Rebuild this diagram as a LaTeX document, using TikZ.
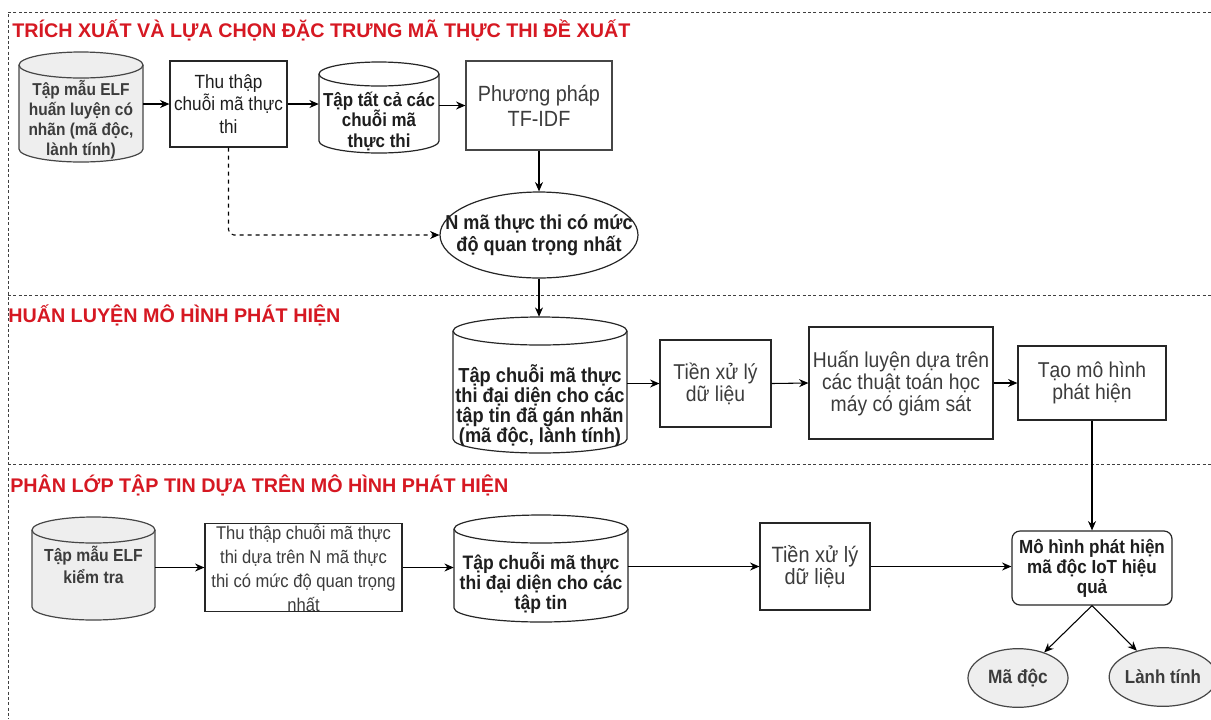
\documentclass[tikz,border=0pt]{standalone}
\usepackage{fontspec}
\setmainfont{Liberation Sans}[FakeStretch=0.9]
\newfontfamily\titlefont{Liberation Sans}
\usetikzlibrary{arrows.meta,shapes.geometric}

\definecolor{titlered}{RGB}{214,24,34}
\definecolor{dbgray}{RGB}{238,238,238}
\definecolor{edgegray}{RGB}{70,70,70}
\definecolor{txtdark}{RGB}{30,30,30}
\definecolor{txtgray}{RGB}{60,60,60}

% box given by its corners in pixel units (y grows downwards)
\newcommand{\pbox}[7]{%
  \node[#6, minimum width={(#4-#2)*0.75pt}, minimum height={(#5-#3)*0.75pt}]
    (#1) at ({(#2+#4)/2},{-(#3+#5)/2}) {#7};}

% storage cylinder: name, x1, ytop, x2, ybottom, cap radius, style
\newcommand{\dbcyl}[7]{%
  \pgfmathsetmacro\cylrx{(#4-#2)/2}%
  \path[#7] (#2,{-#3-#6}) -- (#2,{-#5+#6})
    arc[start angle=180,end angle=360,x radius=\cylrx,y radius=#6]
    -- (#4,{-#3-#6})
    arc[start angle=0,end angle=180,x radius=\cylrx,y radius=#6] -- cycle;
  \draw[#7,fill=none] (#2,{-#3-#6})
    arc[start angle=180,end angle=360,x radius=\cylrx,y radius=#6];
  \node[inner sep=0, minimum width={(#4-#2)*0.75pt}, minimum height={(#5-#3)*0.75pt}]
    (#1) at ({(#2+#4)/2},{-(#3+#5)/2}) {};}

\tikzset{
  box/.style={draw=black!85, line width=0.9pt, fill=white, inner sep=0, align=center, text=txtgray},
  dbwhite/.style={draw=black!85, line width=0.9pt, fill=white},
  dbgrey/.style={draw=edgegray, line width=0.9pt, fill=dbgray},
  dbtext/.style={inner sep=0, align=center, text=txtdark},
  oval/.style={ellipse, draw=edgegray, line width=0.9pt, fill=dbgray, inner sep=0, text=txtgray},
  conn/.style={-{Stealth[length=7pt,width=6pt]}, line width=0.8pt, black},
  frame/.style={dash pattern=on 2.2pt off 1.8pt, line width=0.7pt, black!75},
  sectitle/.style={anchor=west, inner sep=0, text=titlered,
    font=\titlefont\fontsize{14.8}{17}\selectfont\bfseries},
  fsmall/.style={font=\fontsize{14.3}{16.9}\selectfont},
  fmid/.style={font=\fontsize{16.1}{16.5}\selectfont},
}

\begin{document}
\begin{tikzpicture}[x=0.75pt,y=0.75pt]
\useasboundingbox (0,0) rectangle (1211,-719);
\fill[white] (0,0) rectangle (1211,-719);

% dashed section frames
\draw[frame] (1211,-12) -- (8,-12) -- (8,-719);
\draw[frame] (8,-295) -- (1211,-295);
\draw[frame] (8,-464) -- (1211,-464);

% section titles
\node[sectitle] (title1) at (12,-30) {TRÍCH XUẤT VÀ LỰA CHỌN ĐẶC TRƯNG MÃ THỰC THI ĐỀ XUẤT};
\node[sectitle] (title2) at (8,-315) {HUẤN LUYỆN MÔ HÌNH PHÁT HIỆN};
\node[sectitle] (title3) at (10,-485) {PHÂN LỚP TẬP TIN DỰA TRÊN MÔ HÌNH PHÁT HIỆN};

% ---------- feature extraction ----------
\dbcyl{c1}{19}{52}{143}{162}{13}{dbgrey}
\node[dbtext, text=txtgray, font=\fontsize{12.9}{15}\selectfont\bfseries] (c1t) at (81,-120)
  {Tập mẫu ELF\\huấn luyện có\\nhãn (mã độc,\\lành tính)};

\pbox{r1}{170}{61}{287}{147}{box,fsmall,text=txtdark}{Thu thập\\chuỗi mã thực\\thi}

\dbcyl{c2}{319}{62}{439}{153}{12}{dbwhite}
\node[dbtext, font=\fontsize{14.1}{15.4}\selectfont\bfseries] (c2t) at (379,-121)
  {Tập tất cả các\\chuỗi mã\\thực thi};

\pbox{tf}{466}{61}{612}{150}{box,draw=edgegray,font=\fontsize{16.5}{18.75}\selectfont}{Phương pháp\\TF-IDF}

\node[ellipse, draw=black!85, line width=0.9pt, fill=white, inner sep=0,
  minimum width=148.5pt, minimum height=64.5pt] (ell) at (539,-235) {};
\node[dbtext, font=\fontsize{15.1}{16.3}\selectfont\bfseries] (ellt) at (ell.center)
  {N mã thực thi có mức\\độ quan trọng nhất};

\draw[conn] (c1.east |- r1.west) -- (r1.west);
\draw[conn] (r1.east) -- (r1.east -| c2.west);
\draw[conn] (c2.east |- tf.west) -- (tf.west);
\draw[conn] (tf.south) -- (ell.north);
\draw[conn, dashed, rounded corners=4pt] (r1.south) |- (ell.west);

% ---------- training ----------
\dbcyl{c4}{453}{317}{627}{453}{14}{dbwhite}
\node[dbtext, font=\fontsize{15.2}{15}\selectfont\bfseries] (c4t) at (540,-406)
  {Tập chuỗi mã thực\\thi đại diện cho các\\tập tin đã gán nhãn\\(mã độc, lành tính)};

\pbox{t2}{660}{340}{771}{427}{box,fmid}{Tiền xử lý\\dữ liệu}
\pbox{h2}{809}{327}{993}{439}{box,fmid}{Huấn luyện dựa trên\\các thuật toán học\\máy có giám sát}
\pbox{m2}{1018}{346}{1166}{420}{box,fmid}{Tạo mô hình\\phát hiện}

\draw[conn] (ell.south) -- (ell.south |- c4.north);
\draw[conn] (c4.east |- t2.west) -- (t2.west);
\draw[conn] (t2.east) -- (h2.west);
\draw[conn] (h2.east) -- (m2.west);

% ---------- classification ----------
\dbcyl{c5}{32}{517}{155}{620}{13}{dbgrey}
\node[dbtext, text=txtgray, font=\fontsize{13.1}{16}\selectfont\bfseries] (c5t) at (93.5,-565)
  {Tập mẫu ELF\\kiểm tra};

\pbox{r3}{205}{524}{402}{611}{box,font=\fontsize{13.8}{18}\selectfont}{Thu thập chuỗi mã thực\\thi dựa trên N mã thực\\thi có mức độ quan trọng\\nhất}

\dbcyl{c6}{454}{515}{628}{622}{14}{dbwhite}
\node[dbtext, font=\fontsize{14.6}{15}\selectfont\bfseries] (c6t) at (541,-583)
  {Tập chuỗi mã thực\\thi đại diện cho các\\tập tin};

\pbox{t3}{760}{523}{870}{610}{box,font=\fontsize{16.6}{16.5}\selectfont}{Tiền xử lý\\dữ liệu}

\pbox{det}{1012}{531}{1172}{605}{box,rounded corners=6pt,text=txtdark,font=\fontsize{14.2}{15}\selectfont\bfseries}{Mô hình phát hiện\\mã độc IoT hiệu\\quả}

\node[oval, minimum width=75pt, minimum height=44pt,
  font=\fontsize{14.4}{15}\selectfont\bfseries] (o1) at (1018,-678) {Mã độc};
\node[oval, minimum width=70.5pt, minimum height=44pt,
  font=\fontsize{14.1}{15}\selectfont\bfseries] (o2) at (1163,-677) {Lành tính};

\draw[conn] (c5.east |- r3.west) -- (r3.west);
\draw[conn] (r3.east) -- (r3.east -| c6.west);
\draw[conn] (c6.east |- t3.west) -- (t3.west);
\draw[conn] (t3.east) -- (t3.east -| det.west);
\draw[conn] (m2.south) -- (det.north);
\draw[conn] (det.south) -- (o1);
\draw[conn] (det.south) -- (o2);
\end{tikzpicture}
\end{document}
